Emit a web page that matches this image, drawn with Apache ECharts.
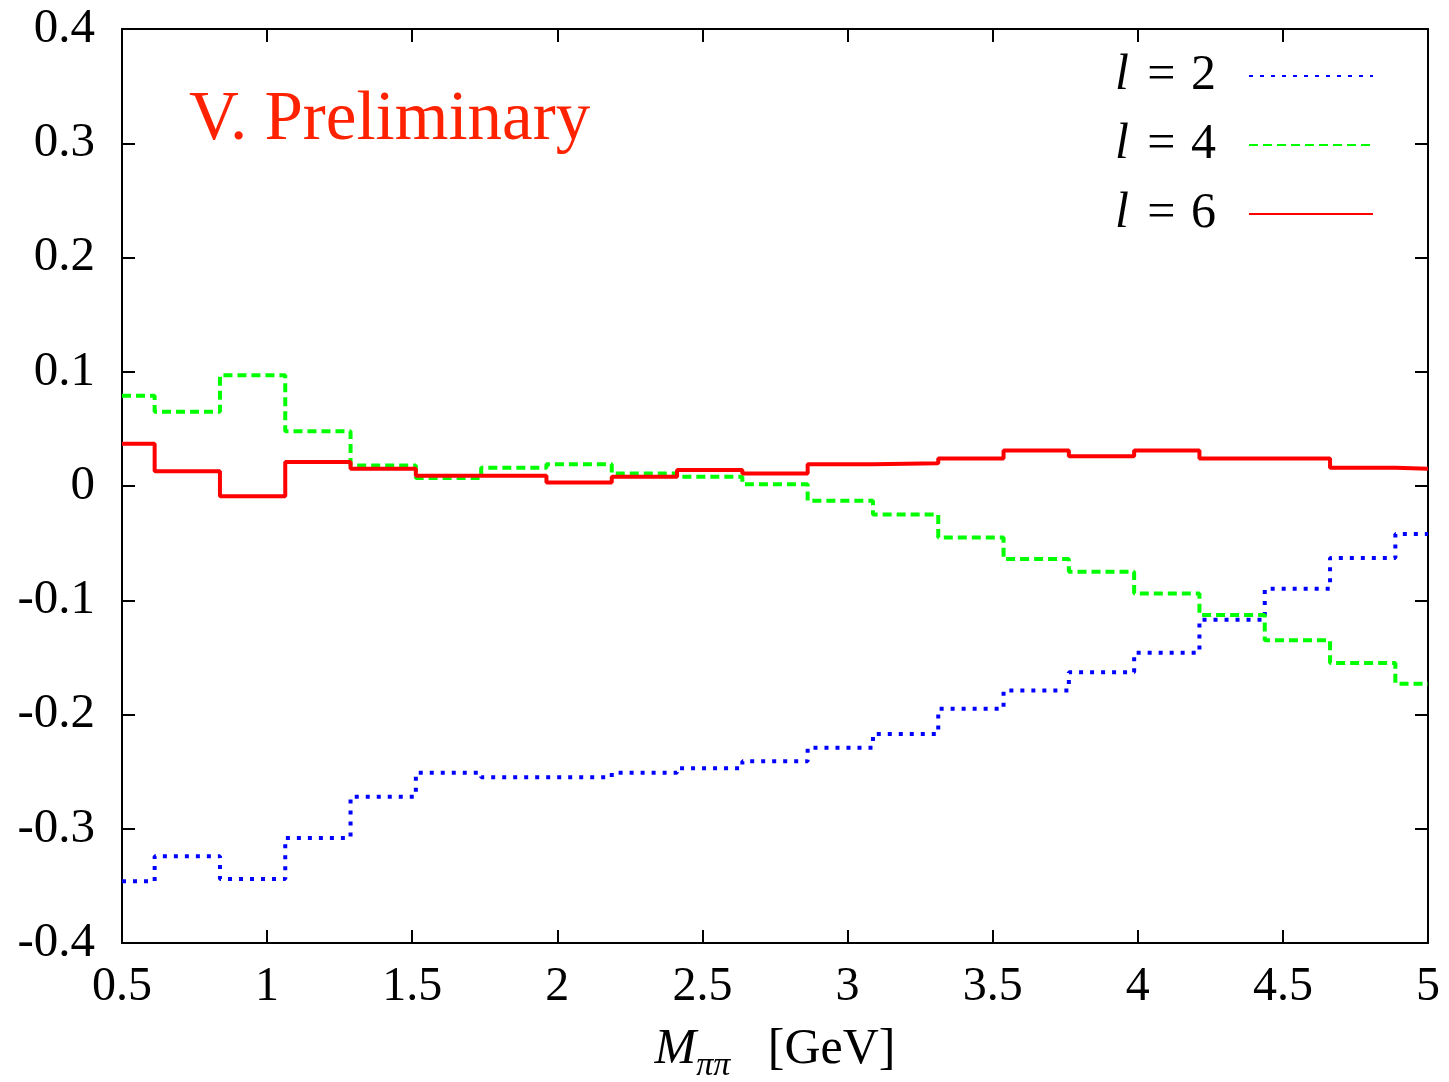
<!DOCTYPE html>
<html>
<head>
<meta charset="utf-8">
<script src="https://cdn.jsdelivr.net/npm/echarts@6/dist/echarts.min.js"></script>
<style>
html,body{margin:0;padding:0;background:#fff;}
#c{width:1449px;height:1082px;}
</style>
</head>
<body>
<div id="c"></div>
<script>
// Bin edges in M_pipi [GeV] (21 bins, clipped to the axis range)
const edges = [0.5, 0.6125, 0.8375, 1.0625, 1.2875, 1.5125, 1.7375, 1.9625, 2.1875, 2.4125, 2.6375,
  2.8625, 3.0875, 3.3125, 3.5375, 3.7625, 3.9875, 4.2125, 4.4375, 4.6625, 4.8875, 5.0];
// Bin values per series
const l2 = [-0.346, -0.324, -0.344, -0.308, -0.272, -0.251, -0.255, -0.255, -0.251, -0.247, -0.241,
  -0.229, -0.217, -0.195, -0.179, -0.163, -0.146, -0.117, -0.090, -0.063, -0.042];
const l4 = [0.079, 0.065, 0.097, 0.048, 0.018, 0.007, 0.016, 0.019, 0.011, 0.008, 0.0015,
  -0.013, -0.025, -0.045, -0.064, -0.075, -0.094, -0.113, -0.135, -0.155, -0.173];
const l6 = [0.037, 0.013, -0.009, 0.021, 0.015, 0.009, 0.009, 0.003, 0.008, 0.014, 0.011,
  0.019, 0.020, 0.024, 0.031, 0.026, 0.031, 0.024, 0.024, 0.016, 0.015];
const seriesNames = ['l = 2', 'l = 4', 'l = 6'];
const xTicks = ['0.5', '1', '1.5', '2', '2.5', '3', '3.5', '4', '4.5', '5'];
const yTicks = ['-0.4', '-0.3', '-0.2', '-0.1', '0', '0.1', '0.2', '0.3', '0.4'];
const annotation = 'V. Preliminary';

const FONT = '"Liberation Serif", "DejaVu Serif", serif';

function stepData(vals) {
  return edges.map((x, i) => [x, vals[Math.min(i, vals.length - 1)]]);
}

const chart = echarts.init(document.getElementById('c'), null, {renderer: 'canvas'});

const baseX = {
  type: 'value', min: 0.5, max: 5, interval: 0.5,
  splitLine: {show: false},
  axisLine: {show: true, onZero: false, lineStyle: {color: '#000', width: 2}},
  axisTick: {show: true, inside: true, length: 13, lineStyle: {color: '#000', width: 2}}
};
const baseY = {
  type: 'value', min: -0.4, max: 0.4, interval: 0.1,
  splitLine: {show: false},
  axisLine: {show: true, onZero: false, lineStyle: {color: '#000', width: 2}},
  axisTick: {show: true, inside: true, length: 13, lineStyle: {color: '#000', width: 2}}
};

function fmtX(v) {
  const s = (Math.round(v * 10) / 10).toString();
  return xTicks.indexOf(s) >= 0 ? s : '';
}
function fmtY(v) {
  const s = (Math.round(v * 10) / 10).toString();
  return yTicks.indexOf(s) >= 0 ? s : '';
}

const option = {
  backgroundColor: '#fff',
  animation: false,
  grid: {left: 122, right: 21, top: 29, bottom: 139, containLabel: false, outerBoundsMode: 'none'},
  xAxis: [
    Object.assign({}, baseX, {
      position: 'bottom',
      axisLabel: {show: true, formatter: fmtX, fontFamily: FONT, fontSize: 48, color: '#000', margin: 20},
      name: '{m|M}{s|ππ}{n|   [GeV]}',
      nameLocation: 'middle',
      nameGap: 76,
      nameTextStyle: {
        fontFamily: FONT, fontSize: 48, color: '#000',
        rich: {
          m: {fontFamily: FONT, fontSize: 50, fontStyle: 'italic', color: '#000', verticalAlign: 'bottom', lineHeight: 56},
          s: {fontFamily: FONT, fontSize: 34, fontStyle: 'italic', color: '#000', verticalAlign: 'bottom', lineHeight: 40, padding: [0, 0, -8, 0]},
          n: {fontFamily: FONT, fontSize: 50, color: '#000', verticalAlign: 'bottom', lineHeight: 56}
        }
      }
    }),
    Object.assign({}, baseX, {position: 'top', axisLabel: {show: false}})
  ],
  yAxis: [
    Object.assign({}, baseY, {
      position: 'left',
      axisLabel: {show: true, formatter: fmtY, fontFamily: FONT, fontSize: 49, color: '#000', margin: 27}
    }),
    Object.assign({}, baseY, {position: 'right', axisLabel: {show: false}})
  ],
  legend: {
    orient: 'vertical',
    right: 70,
    top: 46,
    align: 'right',
    itemWidth: 124,
    itemHeight: 14,
    itemGap: 19,
    selectedMode: false,
    itemStyle: {opacity: 0},
    formatter: function (name) {
      const parts = name.split(' = ');
      return '{it|' + parts[0] + '}{t| = }{n|' + parts[1] + '}';
    },
    textStyle: {
      fontFamily: FONT, fontSize: 48, color: '#000', lineHeight: 50, padding: [0, 28, 0, 0],
      rich: {
        it: {fontFamily: FONT, fontSize: 50, fontStyle: 'italic', color: '#000', lineHeight: 50, padding: [0, 6, 0, 0]},
        t: {fontFamily: FONT, fontSize: 50, color: '#000', lineHeight: 50},
        n: {fontFamily: FONT, fontSize: 50, color: '#000', lineHeight: 50, padding: [0, 0, 0, 3]}
      }
    },
    data: seriesNames
  },
  graphic: [{
    type: 'text',
    left: 189,
    top: 86,
    style: {text: annotation, fontFamily: FONT, fontSize: 69, fill: '#ff2200'}
  }],
  series: [
    {
      name: seriesNames[0], type: 'line', step: 'end', symbol: 'none',
      data: stepData(l2),
      lineStyle: {color: '#0000ff', width: 4, type: [4, 7], cap: 'butt'},
      itemStyle: {color: '#0000ff'}
    },
    {
      name: seriesNames[1], type: 'line', step: 'end', symbol: 'none',
      data: stepData(l4),
      lineStyle: {color: '#00ff00', width: 4, type: [9, 5], cap: 'butt'},
      itemStyle: {color: '#00ff00'}
    },
    {
      name: seriesNames[2], type: 'line', step: 'end', symbol: 'none',
      data: stepData(l6),
      lineStyle: {color: '#ff0000', width: 4, type: 'solid'},
      itemStyle: {color: '#ff0000'}
    }
  ]
};
chart.setOption(option);
</script>
</body>
</html>
